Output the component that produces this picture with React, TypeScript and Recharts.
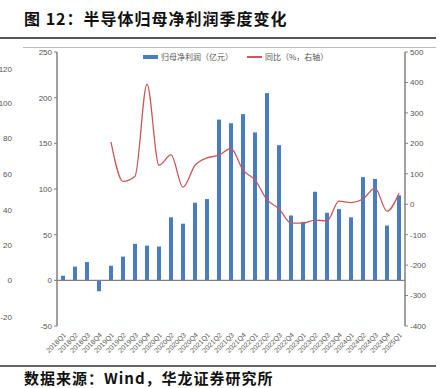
import React from "react";
import {
  ComposedChart,
  Bar,
  Line,
  XAxis,
  YAxis,
  ReferenceLine,
} from "recharts";

const categories = [
  "2018Q1", "2018Q2", "2018Q3", "2018Q4",
  "2019Q1", "2019Q2", "2019Q3", "2019Q4",
  "2020Q1", "2020Q2", "2020Q3", "2020Q4",
  "2021Q1", "2021Q2", "2021Q3", "2021Q4",
  "2022Q1", "2022Q2", "2022Q3", "2022Q4",
  "2023Q1", "2023Q2", "2023Q3", "2023Q4",
  "2024Q1", "2024Q2", "2024Q3", "2024Q4",
  "2025Q1",
];

const netProfit = [
  5, 15, 20, -12,
  16, 26, 40, 38,
  37, 69, 62, 85,
  89, 176, 172, 182,
  162, 205, 148, 71,
  64, 97, 74, 78,
  69, 113, 111, 60,
  93,
];

const yoy: (number | null)[] = [
  null, null, null, null,
  204, 75, 92, 394,
  128, 162, 56, 128,
  152, 161, 183, 112,
  80, 15, -15, -62,
  -62, -52, -55, 10,
  5, 17, 53, -23,
  36,
];

const leftTicks = [-50, 0, 50, 100, 150, 200, 250];
const rightTicks = [-400, -300, -200, -100, 0, 100, 200, 300, 400, 500];
const strayTicks = ["120", "100", "80", "60", "40", "20", "0", "-20"];
const strayTickY = [70, 104, 139, 175, 211, 246, 281, 318];

const data = categories.map((c, i) => ({
  name: c,
  profit: netProfit[i],
  yoy: yoy[i],
}));

const BAR = "#4a7dbf";
const LINE = "#c9585a";
const AXIS = "#808080";
const TICK = { fontSize: 8, fill: "#555", fontFamily: "Liberation Sans, Arial, sans-serif" };

export default function App() {
  return (
    <div
      style={{
        position: "absolute",
        left: 0,
        top: 0,
        width: 445,
        height: 388,
        background: "#fff",
        overflow: "hidden",
        fontFamily: "'Noto Sans CJK SC', sans-serif",
      }}
    >
      <div
        style={{
          position: "absolute",
          left: 24,
          top: 6,
          fontSize: 16,
          fontWeight: 700,
          color: "#111",
          letterSpacing: 1,
          whiteSpace: "nowrap",
          lineHeight: "24px",
        }}
      >
        图 12：半导体归母净利润季度变化
      </div>
      <div style={{ position: "absolute", left: 0, top: 37, width: 436, height: 2, background: "#555" }} />
      <div style={{ position: "absolute", left: 23, top: 47, width: 413, height: 1, background: "#bbb" }} />
      <div style={{ position: "absolute", left: 0, top: 365, width: 436, height: 2, background: "#666" }} />
      <div
        style={{
          position: "absolute",
          left: 24,
          top: 369,
          fontSize: 15,
          fontWeight: 700,
          color: "#111",
          whiteSpace: "nowrap",
          lineHeight: "18px",
          letterSpacing: 1,
        }}
      >
        数据来源：Wind，华龙证券研究所
      </div>
      {strayTicks.map((t, i) => (
        <div
          key={t}
          style={{
            position: "absolute",
            left: -20,
            width: 32,
            top: strayTickY[i] - 6,
            fontSize: 8,
            lineHeight: "12px",
            color: "#555",
            textAlign: "right",
            fontFamily: "Liberation Sans, Arial, sans-serif",
          }}
        >
          {t}
        </div>
      ))}
      <div
        style={{
          position: "absolute",
          left: 143,
          top: 51,
          display: "flex",
          alignItems: "center",
          fontSize: 8,
          color: "#555",
          whiteSpace: "nowrap",
          lineHeight: "12px",
        }}
      >
        <span style={{ display: "inline-block", width: 15, height: 4, background: BAR, marginRight: 3 }} />
        <span>归母净利润（亿元）</span>
        <span style={{ display: "inline-block", width: 15, height: 1.5, background: LINE, marginLeft: 14, marginRight: 3 }} />
        <span>同比（%，右轴）</span>
      </div>
      <div style={{ position: "absolute", left: 0, top: 0 }}>
        <ComposedChart
          width={445}
          height={388}
          data={data}
          margin={{ top: 52, right: 0, bottom: 30, left: 0 }}
          barCategoryGap={0}
        >
          <XAxis
            dataKey="name"
            height={32}
            axisLine={false}
            tickLine={false}
            interval={0}
            angle={-45}
            textAnchor="end"
            tick={{ ...TICK, fontSize: 7 }}
            dy={-2}
          />
          <YAxis
            yAxisId="left"
            width={57}
            domain={[-50, 250]}
            ticks={leftTicks}
            tick={TICK}
            axisLine={{ stroke: AXIS, strokeWidth: 1.5 }}
            tickLine={{ stroke: AXIS }}
            tickSize={3}
            interval={0}
          />
          <YAxis
            yAxisId="right"
            orientation="right"
            width={40}
            domain={[-400, 500]}
            ticks={rightTicks}
            tick={TICK}
            axisLine={{ stroke: AXIS, strokeWidth: 1.5 }}
            tickLine={{ stroke: AXIS }}
            tickSize={3}
            interval={0}
          />
          <ReferenceLine yAxisId="left" y={0} stroke={AXIS} strokeWidth={1.2} />
          <Bar yAxisId="left" dataKey="profit" fill={BAR} barSize={4} isAnimationActive={false} />
          <Line
            yAxisId="right"
            dataKey="yoy"
            type="monotone"
            stroke={LINE}
            strokeWidth={1.3}
            dot={false}
            isAnimationActive={false}
          />
        </ComposedChart>
      </div>
    </div>
  );
}
